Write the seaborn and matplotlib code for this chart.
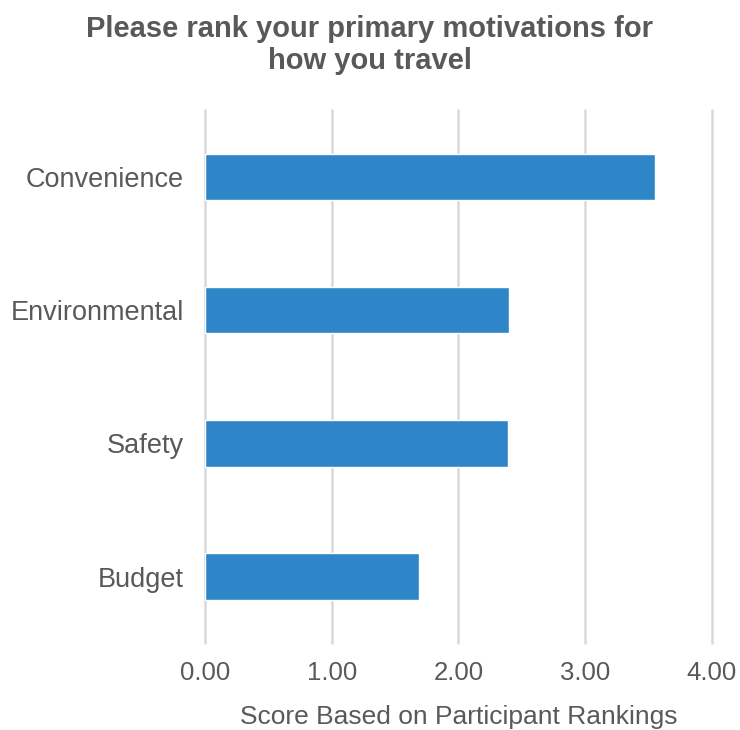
import matplotlib

matplotlib.use("Agg")

import matplotlib.pyplot as plt
import pandas as pd
import seaborn as sns

CATEGORIES = ["Convenience", "Environmental", "Safety", "Budget"]
SCORES = [3.55, 2.40, 2.39, 1.69]
X_TICKS = [0, 1, 2, 3, 4]

BAR_COLOR = "#2E86C8"
TEXT_COLOR = "#595959"
GRID_COLOR = "#D9D9D9"

sns.set_theme(style="white")
plt.rcParams["font.family"] = ["Liberation Sans", "DejaVu Sans"]

data = pd.DataFrame({"Motivation": CATEGORIES, "Score": SCORES})

fig = plt.figure(figsize=(7.4, 7.3), dpi=100)
ax = fig.add_axes([0.277, 0.119, 0.685, 0.730])

sns.barplot(data=data, x="Score", y="Motivation", orient="h", color=BAR_COLOR,
            saturation=1, width=0.35, ax=ax, zorder=3)

ax.set_xlim(0, 4)
ax.set_xticks(X_TICKS)
ax.set_xticklabels([f"{t:.2f}" for t in X_TICKS])
ax.set_ylim(3.5, -0.5)
ax.grid(axis="x", color=GRID_COLOR, linewidth=1.8, zorder=0, clip_on=False)
ax.set_axisbelow(True)
for spine in ax.spines.values():
    spine.set_visible(False)

ax.tick_params(axis="x", length=0, labelsize=18.5, labelcolor=TEXT_COLOR, pad=13)
ax.tick_params(axis="y", length=0, labelsize=19.5, labelcolor=TEXT_COLOR, pad=15)
ax.set_ylabel("")
ax.set_xlabel("Score Based on Participant Rankings", fontsize=19, color=TEXT_COLOR, labelpad=14)

fig.suptitle("Please rank your primary motivations for\nhow you travel", x=0.5, y=0.98,
             fontsize=21, fontweight="bold", color=TEXT_COLOR, linespacing=1.2)

fig.savefig("out.png", dpi=100)
